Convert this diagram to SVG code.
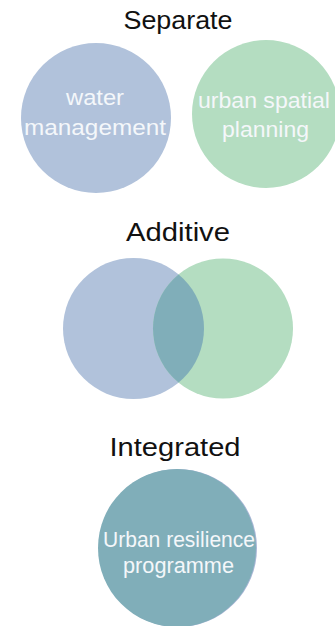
<svg xmlns="http://www.w3.org/2000/svg" width="335" height="626" viewBox="0 0 335 626">
<style>
.title{font-family:"Liberation Sans",Arial,sans-serif;font-size:26px;fill:#111;text-anchor:middle}
.lbl{font-family:"Liberation Sans",Arial,sans-serif;font-size:22px;fill:#f4f7fa;text-anchor:middle}
.blue{fill:#b1c2db}
.green{fill:#b4ddc1}
.mix{fill:#80aeb9}
</style>
<rect width="335" height="626" fill="#fff"/>
<g id="separate">
<text class="title" x="178" y="29" textLength="109" lengthAdjust="spacingAndGlyphs">Separate</text>
<g id="water-management">
<circle class="blue" cx="96" cy="118" r="75"/>
<text class="lbl" x="95" y="105" textLength="58" lengthAdjust="spacingAndGlyphs">water</text>
<text class="lbl" x="95" y="135" textLength="142" lengthAdjust="spacingAndGlyphs">management</text>
</g>
<g id="urban-spatial-planning">
<circle class="green" cx="266" cy="114" r="74"/>
<text class="lbl" x="264" y="108" textLength="132" lengthAdjust="spacingAndGlyphs">urban spatial</text>
<text class="lbl" x="265.5" y="137" textLength="87" lengthAdjust="spacingAndGlyphs">planning</text>
</g>
</g>
<g id="additive">
<text class="title" x="178" y="241" textLength="104" lengthAdjust="spacingAndGlyphs">Additive</text>
<g id="additive-water">
<circle class="blue" cx="133.5" cy="328.5" r="70.5"/>
</g>
<g id="additive-spatial">
<circle class="green" cx="223" cy="328.5" r="70"/>
</g>
<g id="additive-overlap">
<clipPath id="cl"><circle cx="133.5" cy="328.5" r="70.5"/></clipPath>
<circle class="mix" cx="223" cy="328.5" r="70" clip-path="url(#cl)"/>
</g>
</g>
<g id="integrated">
<text class="title" x="175" y="456" textLength="131" lengthAdjust="spacingAndGlyphs">Integrated</text>
<g id="urban-resilience-programme">
<circle fill="#a9b6d6" cx="178" cy="548" r="79"/>
<circle class="mix" cx="177" cy="548" r="79"/>
<text class="lbl" x="179" y="547" textLength="152" lengthAdjust="spacingAndGlyphs">Urban resilience</text>
<text class="lbl" x="178.5" y="573" textLength="111" lengthAdjust="spacingAndGlyphs">programme</text>
</g>
</g>
</svg>
